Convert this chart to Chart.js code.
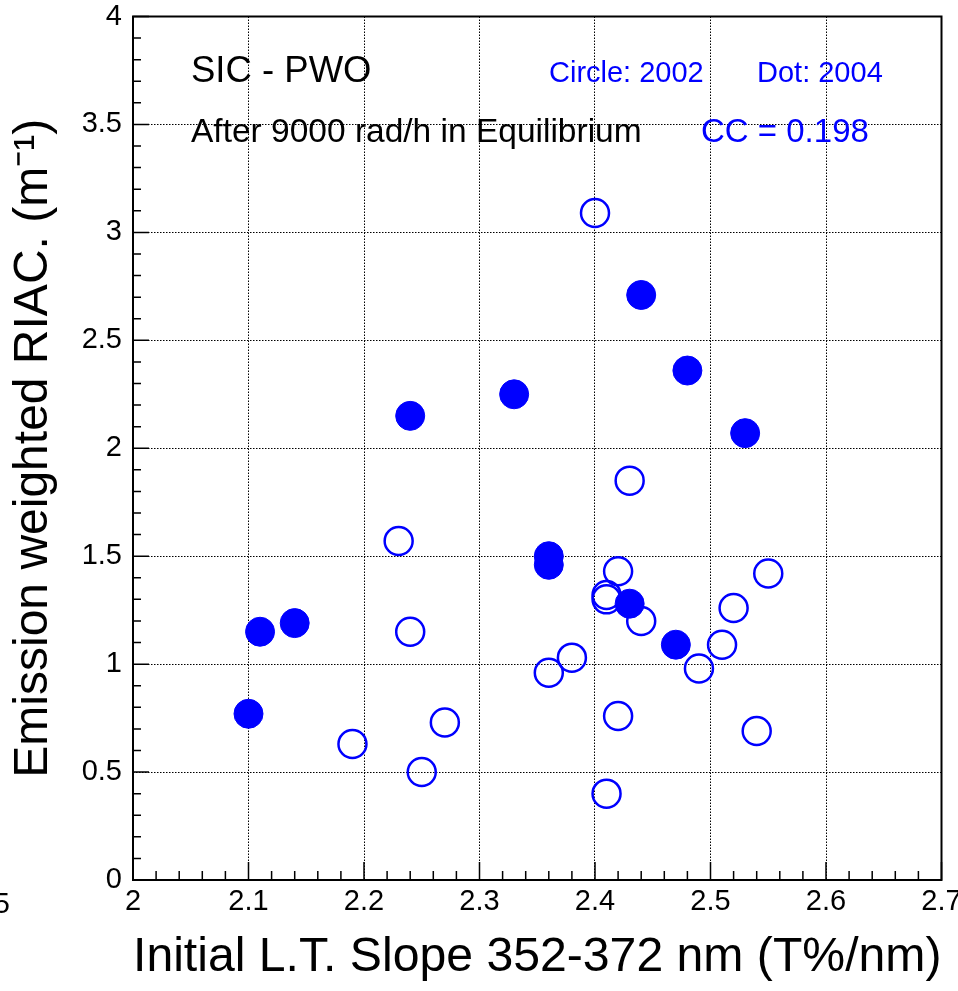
<!DOCTYPE html>
<html>
<head>
<meta charset="utf-8">
<script src="https://cdn.jsdelivr.net/npm/chart.js@4.4.1/dist/chart.umd.min.js"></script>
<style>
  body { margin: 0; background: #fff; }
  canvas { display: block; }
</style>
</head>
<body>
<canvas id="scatter" width="958" height="991"></canvas>
<script>
// 2002 crystals (open circles)
var circle2002X = [2.40, 2.43, 2.23, 2.42, 2.41, 2.41, 2.44, 2.24, 2.55, 2.52, 2.51, 2.38, 2.36, 2.49, 2.42, 2.27, 2.19, 2.25, 2.54, 2.41];
var circle2002Y = [3.09, 1.85, 1.57, 1.43, 1.32, 1.30, 1.20, 1.15, 1.42, 1.26, 1.09, 1.03, 0.96, 0.98, 0.76, 0.73, 0.63, 0.50, 0.69, 0.40];

// 2004 crystals (dots)
var dot2004X = [2.44, 2.48, 2.33, 2.24, 2.53, 2.36, 2.36, 2.43, 2.11, 2.14, 2.47, 2.10];
var dot2004Y = [2.71, 2.36, 2.25, 2.15, 2.07, 1.50, 1.46, 1.28, 1.15, 1.19, 1.09, 0.77];

var xMin = 2, xMax = 2.7, xStep = 0.1;
var yMin = 0, yMax = 4, yStep = 0.5;

var FONT = '"Liberation Sans", Arial, Helvetica, sans-serif';
var BLUE = '#0000ff';

function toPoints(xs, ys) {
    return xs.map(function(x, i) { return { x: x, y: ys[i] }; });
}

function shortLabel(value) {
    return String(+value.toFixed(2));
}

// frame, inside tick marks and the text labels
var rootStyle = {
    id: 'rootStyle',
    afterDraw: function(chart) {
        var ctx = chart.ctx;
        var a = chart.chartArea;
        var xs = chart.scales.x;
        var ys = chart.scales.y;
        ctx.save();
        ctx.strokeStyle = '#000';
        ctx.lineWidth = 1.5;
        ctx.beginPath();
        for (var i = 0; i <= 35; i++) {
            var px = xs.getPixelForValue(xMin + i * 0.02);
            var len = (i % 5 === 0) ? 18 : 9;
            ctx.moveTo(px, a.bottom);
            ctx.lineTo(px, a.bottom - len);
        }
        for (var j = 0; j <= 40; j++) {
            var py = ys.getPixelForValue(yMin + j * 0.1);
            var l = (j % 5 === 0) ? 16 : 8;
            ctx.moveTo(a.left, py);
            ctx.lineTo(a.left + l, py);
        }
        ctx.stroke();

        ctx.lineWidth = 2;
        ctx.strokeRect(a.left, a.top, a.right - a.left, a.bottom - a.top);

        ctx.textBaseline = 'alphabetic';
        ctx.textAlign = 'left';
        ctx.fillStyle = '#000';
        ctx.font = '36.5px ' + FONT;
        ctx.fillText('SIC - PWO', 191, 82);
        ctx.font = '33.5px ' + FONT;
        ctx.fillText('After 9000 rad/h in Equilibrium', 191, 142);

        ctx.fillStyle = BLUE;
        ctx.font = '29px ' + FONT;
        ctx.fillText('Circle: 2002', 549, 82);
        ctx.fillText('Dot: 2004', 757, 82);
        ctx.font = '33px ' + FONT;
        ctx.fillText('CC = 0.198', 701, 142);

        // clipped label of a neighbouring pad
        ctx.fillStyle = '#000';
        ctx.font = '29px ' + FONT;
        ctx.textAlign = 'right';
        ctx.fillText('5', 10, 913);
        ctx.restore();
    }
};

var ctx = document.getElementById('scatter').getContext('2d');
var chart = new Chart(ctx, {
    type: 'scatter',
    data: {
        datasets: [{
            label: 'Dot: 2004',
            data: toPoints(dot2004X, dot2004Y),
            backgroundColor: BLUE,
            borderColor: BLUE,
            borderWidth: 1,
            pointRadius: 14.5,
            pointHoverRadius: 14.5
        }, {
            label: 'Circle: 2002',
            data: toPoints(circle2002X, circle2002Y),
            backgroundColor: 'rgba(0,0,0,0)',
            borderColor: BLUE,
            borderWidth: 2.5,
            pointRadius: 14,
            pointHoverRadius: 14
        }]
    },
    options: {
        responsive: false,
        animation: false,
        layout: { padding: { top: 15, right: 16, left: 0, bottom: 0 } },
        plugins: {
            legend: { display: false },
            tooltip: { enabled: false }
        },
        scales: {
            x: {
                type: 'linear',
                min: xMin,
                max: xMax,
                afterFit: function(scale) {
                    scale.height = 111;
                    scale.paddingLeft = 0;
                    scale.paddingRight = 0;
                },
                ticks: {
                    stepSize: xStep,
                    padding: 5,
                    color: '#000',
                    font: { family: FONT, size: 29 },
                    maxRotation: 0,
                    autoSkip: false,
                    callback: shortLabel
                },
                grid: { color: '#000', lineWidth: 1, drawTicks: false },
                border: { display: false, dash: [1.5, 1.5] },
                title: {
                    display: true,
                    text: 'Initial L.T. Slope 352-372 nm (T%/nm)',
                    color: '#000',
                    font: { family: FONT, size: 48.5 },
                    padding: { top: 0, bottom: 4 }
                }
            },
            y: {
                type: 'linear',
                min: yMin,
                max: yMax,
                afterFit: function(scale) {
                    scale.width = 133;
                    scale.paddingTop = 0;
                    scale.paddingBottom = 0;
                },
                ticks: {
                    stepSize: yStep,
                    padding: 11,
                    color: '#000',
                    font: { family: FONT, size: 29 },
                    autoSkip: false,
                    callback: shortLabel
                },
                grid: { color: '#000', lineWidth: 1, drawTicks: false },
                border: { display: false, dash: [1.5, 1.5] },
                title: {
                    display: true,
                    text: 'Emission weighted RIAC. (m\u207B\u00B9)',
                    color: '#000',
                    font: { family: FONT, size: 48 },
                    padding: { top: 5, bottom: 0 }
                }
            }
        }
    },
    plugins: [rootStyle]
});
</script>
</body>
</html>
